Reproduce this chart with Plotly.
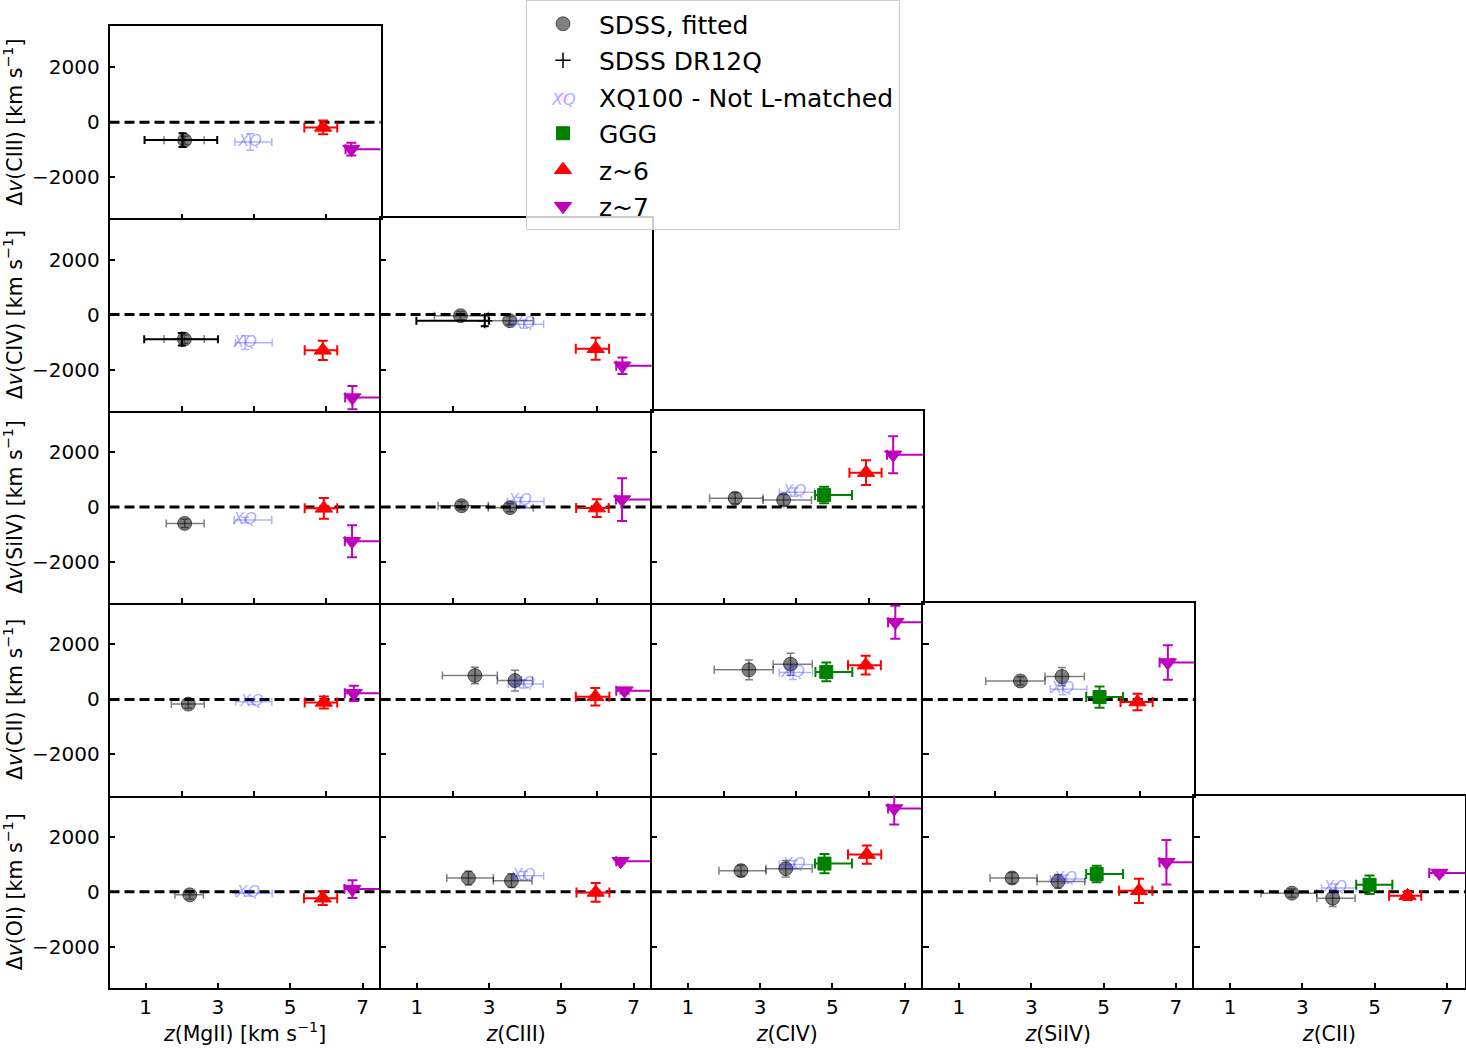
import plotly.graph_objects as go

W, H = 1466, 1050

row_lines = ["CIII", "CIV", "SiIV", "CII", "OI"]
col_lines = ["MgII", "CIII", "CIV", "SiIV", "CII"]
x_titles = ["<i>z</i>(MgII) [km s<sup>\u22121</sup>]", "<i>z</i>(CIII)", "<i>z</i>(CIV)",
            "<i>z</i>(SiIV)", "<i>z</i>(CII)"]
y_titles = ["\u0394<i>v</i>(%s) [km s<sup>\u22121</sup>]" % l for l in row_lines]

bottom_ticks = [1, 3, 5, 7]
upper_ticks = [0, 2, 4, 6]
y_ticks = [-2000, 0, 2000]
y_ticktext = ["\u22122000", "0", "2000"]

# records: (row, col, z, z_lo, z_hi, dv, dv_err)
sdss_fit = [
    (0, 0, 2.08, 1.51, 2.62, -660, 150),
    (1, 0, 2.07, 1.51, 2.62, -890, 150),
    (1, 1, 2.21, 1.49, 2.98, -40, 150), (1, 1, 3.57, 3.01, 4.22, -220, 150),
    (2, 0, 2.08, 1.57, 2.62, -597, 150),
    (2, 1, 2.24, 1.59, 2.98, 48, 150), (2, 1, 3.58, 2.98, 4.22, -24, 150),
    (2, 2, 2.31, 1.60, 3.08, 318, 200), (2, 2, 3.65, 3.08, 4.42, 256, 200),
    (3, 0, 2.18, 1.71, 2.62, -171, 150),
    (3, 1, 2.61, 1.71, 3.23, 867, 300), (3, 1, 3.72, 3.23, 4.20, 684, 380),
    (3, 2, 2.69, 1.73, 3.36, 1075, 360), (3, 2, 3.84, 3.36, 4.44, 1282, 400),
    (3, 3, 2.70, 1.74, 3.38, 670, 150), (3, 3, 3.85, 3.38, 4.47, 831, 330),
    (4, 0, 2.22, 1.81, 2.60, -110, 150),
    (4, 1, 2.43, 1.83, 3.12, 501, 250), (4, 1, 3.62, 3.12, 4.19, 403, 250),
    (4, 2, 2.47, 1.86, 3.16, 769, 200), (4, 2, 3.71, 3.16, 4.44, 842, 300),
    (4, 3, 2.47, 1.86, 3.16, 501, 200), (4, 3, 3.74, 3.16, 4.48, 379, 250),
    (4, 4, 2.71, 1.86, 3.40, -50, 150), (4, 4, 3.84, 3.40, 4.46, -232, 300),
]
dr12q = [
    (0, 0, 2.02, 0.97, 2.98, -650, 250),
    (1, 0, 2.00, 0.96, 3.00, -897, 227),
    (1, 1, 2.88, 0.99, 3.00, -220, 200),
]
xq100 = [
    (0, 0, 3.89, 3.47, 4.49, -720, 300),
    (1, 0, 3.75, 3.49, 4.50, -1020, 250),
    (1, 1, 3.96, 3.55, 4.51, -350, 150),
    (2, 0, 3.75, 3.45, 4.49, -476, 100),
    (2, 1, 3.86, 3.51, 4.52, 200, 150),
    (2, 2, 3.95, 3.53, 4.50, 537, 150),
    (3, 0, 3.94, 3.49, 4.49, -85, 100),
    (3, 1, 3.95, 3.53, 4.50, 562, 150),
    (3, 2, 3.91, 3.53, 4.45, 977, 250),
    (3, 3, 3.87, 3.53, 4.54, 366, 200),
    (4, 0, 3.84, 3.49, 4.50, -50, 100),
    (4, 1, 3.96, 3.67, 4.51, 586, 150),
    (4, 2, 3.93, 3.53, 4.50, 989, 150),
    (4, 3, 3.94, 3.53, 4.50, 464, 150),
    (4, 4, 3.91, 3.53, 4.50, 135, 150),
]
ggg = [
    (2, 2, 4.77, 4.52, 5.54, 440, 300),
    (3, 2, 4.83, 4.53, 5.55, 1000, 340),
    (3, 3, 4.89, 4.52, 5.54, 85, 385),
    (4, 2, 4.78, 4.52, 5.54, 1026, 350),
    (4, 3, 4.81, 4.52, 5.54, 647, 300),
    (4, 4, 4.86, 4.49, 5.49, 256, 335),
]
z6 = [
    (0, 0, 5.91, 5.39, 6.30, -190, 250),
    (1, 0, 5.90, 5.40, 6.30, -1300, 350),
    (1, 1, 5.95, 5.40, 6.32, -1240, 400),
    (2, 0, 5.93, 5.40, 6.30, -49, 375),
    (2, 1, 5.98, 5.41, 6.31, -40, 320),
    (2, 2, 5.93, 5.47, 6.36, 1250, 450),
    (3, 0, 5.93, 5.40, 6.30, -110, 220),
    (3, 1, 5.94, 5.40, 6.33, 98, 320),
    (3, 2, 5.92, 5.43, 6.34, 1245, 340),
    (3, 3, 5.94, 5.47, 6.36, -98, 300),
    (4, 0, 5.90, 5.38, 6.30, -232, 250),
    (4, 1, 5.95, 5.42, 6.33, -24, 340),
    (4, 2, 5.95, 5.43, 6.35, 1355, 330),
    (4, 3, 5.98, 5.43, 6.35, 37, 440),
    (4, 4, 5.91, 5.40, 6.29, -147, 150),
]
z7 = [
    (0, 0, 6.69, 6.53, 7.60, -980, 230),
    (1, 0, 6.72, 6.52, 7.60, -3020, 420),
    (1, 1, 6.69, 6.52, 7.60, -1860, 300),
    (2, 0, 6.71, 6.51, 7.60, -1245, 585),
    (2, 1, 6.68, 6.51, 7.60, 270, 780),
    (2, 2, 6.68, 6.51, 7.60, 1900, 670),
    (3, 0, 6.76, 6.51, 7.60, 220, 280),
    (3, 1, 6.75, 6.52, 7.60, 318, 100),
    (3, 2, 6.74, 6.54, 7.60, 2809, 600),
    (3, 3, 6.78, 6.55, 7.60, 1343, 630),
    (4, 0, 6.72, 6.50, 7.60, 98, 320),
    (4, 1, 6.64, 6.52, 7.60, 1110, 80),
    (4, 2, 6.71, 6.54, 7.60, 3029, 580),
    (4, 3, 6.74, 6.55, 7.60, 1074, 810),
    (4, 4, 6.79, 6.51, 7.60, 684, 80),
]

FONT = "DejaVu Sans"
LEFT, TOP, PW, PH = 109.5, 26.0, 271.1, 192.4
LEG_X, LEG_ITEMW, LEG_ROW, LEG_ROW0 = 526, 62, 37.4, 24.5

panels = [(r, c) for r in range(5) for c in range(r + 1)]
axis_id = {p: i + 1 for i, p in enumerate(panels)}


def sfx(n):
    return "" if n == 1 else str(n)


XQ_COLOR = "rgba(60,60,255,0.42)"

fig = go.Figure()

series = [
    dict(name="SDSS, fitted", data=sdss_fit, mode="markers",
         marker=dict(symbol="circle", size=14, color="rgba(0,0,0,0.5)",
                     line=dict(color="rgba(0,0,0,0.55)", width=1)),
         ecolor="rgba(0,0,0,0.5)", ew=1.5, cap=4),
    dict(name="SDSS DR12Q", data=dr12q, mode="markers",
         marker=dict(symbol="cross-thin-open", size=11, color="black",
                     line=dict(color="black", width=1.5)),
         ecolor="black", ew=2, cap=4),
    dict(name="XQ100 - Not L-matched", data=xq100, mode="text",
         marker=None, ecolor="rgba(0,0,255,0.3)", ew=1.5, cap=4),
    dict(name="GGG", data=ggg, mode="markers",
         marker=dict(symbol="square", size=13, color="#008000",
                     line=dict(color="#008000", width=1)),
         ecolor="#008000", ew=2, cap=5),
    dict(name="z~6", data=z6, mode="markers",
         marker=dict(symbol="triangle-up", size=15, color="#ff0000",
                     line=dict(color="#ff0000", width=1)),
         ecolor="#ff0000", ew=2, cap=5),
    dict(name="z~7", data=z7, mode="markers",
         marker=dict(symbol="triangle-down", size=15, color="#bf00bf",
                     line=dict(color="#bf00bf", width=1)),
         ecolor="#bf00bf", ew=2, cap=5),
]

for s in series:
    is_text = s["mode"] == "text"
    if is_text:
        # legend-only entry (its icon is the "XQ" label placed over the legend)
        fig.add_trace(go.Scatter(x=[None], y=[None], mode="markers", name=s["name"],
                                 legendgroup=s["name"], showlegend=True,
                                 marker=dict(size=12, opacity=0)))
    first = not is_text
    for p in panels:
        recs = [d for d in s["data"] if (d[0], d[1]) == p]
        if not recs:
            continue
        n = axis_id[p]
        kw = dict(
            x=[d[2] for d in recs], y=[d[5] for d in recs],
            error_x=dict(type="data", symmetric=False,
                         array=[d[4] - d[2] for d in recs],
                         arrayminus=[d[2] - d[3] for d in recs],
                         color=s["ecolor"], thickness=s["ew"], width=s["cap"]),
            error_y=dict(type="data", array=[d[6] for d in recs],
                         color=s["ecolor"], thickness=s["ew"], width=s["cap"]),
            xaxis="x" + sfx(n), yaxis="y" + sfx(n),
            name=s["name"], legendgroup=s["name"], showlegend=first,
            mode=s["mode"],
        )
        if is_text:
            kw["text"] = ["<i>XQ</i>"] * len(recs)
            kw["textposition"] = "middle center"
            kw["textfont"] = dict(family=FONT, size=16, color=XQ_COLOR)
        else:
            kw["marker"] = s["marker"]
        fig.add_trace(go.Scatter(**kw))
        first = False

layout = dict(
    width=W, height=H, margin=dict(l=0, r=0, t=0, b=0),
    paper_bgcolor="white", plot_bgcolor="white",
    font=dict(family=FONT, size=20, color="black"),
    legend=dict(x=LEG_X / W, y=1.0, xanchor="left", yanchor="top",
                bgcolor="rgba(255,255,255,0.8)", bordercolor="#cccccc",
                borderwidth=1, font=dict(family=FONT, size=25, color="black"),
                traceorder="grouped", tracegroupgap=1, itemwidth=LEG_ITEMW),
    shapes=[],
    annotations=[dict(text="<i>XQ</i>", xref="paper", yref="paper",
                      x=(LEG_X + 6 + LEG_ITEMW / 2) / W,
                      y=1 - (LEG_ROW0 + 2 * LEG_ROW) / H,
                      xanchor="center", yanchor="middle", showarrow=False,
                      font=dict(family=FONT, size=16, color=XQ_COLOR))],
)

for (r, c), n in axis_id.items():
    x0 = LEFT + c * PW
    y0 = TOP + r * PH
    bottom = (r == 4)
    diag = (r == c)
    xa = dict(domain=[x0 / W, (x0 + PW) / W], anchor="y" + sfx(n), range=[0, 7.5],
              showgrid=False, zeroline=False, showline=True, mirror=diag,
              linecolor="black", linewidth=1.5, ticks="inside", ticklen=5,
              tickwidth=1.5, tickcolor="black",
              tickvals=bottom_ticks if bottom else upper_ticks,
              showticklabels=bottom, tickfont=dict(family=FONT, size=20, color="black"))
    if bottom:
        xa["title"] = dict(text=x_titles[c], font=dict(family=FONT, size=20.5, color="black"),
                           standoff=9)
    ya = dict(domain=[1 - (y0 + PH) / H, 1 - y0 / H], anchor="x" + sfx(n),
              range=[-3500, 3500], showgrid=False, zeroline=False, showline=True,
              mirror=diag, linecolor="black", linewidth=1.5, ticks="inside",
              ticklen=6, tickwidth=1.5, tickcolor="black", tickvals=y_ticks,
              ticktext=y_ticktext, ticklabelstandoff=4,
              showticklabels=(c == 0), tickfont=dict(family=FONT, size=20, color="black"))
    if c == 0:
        ya["title"] = dict(text=y_titles[r], font=dict(family=FONT, size=20.5, color="black"),
                           standoff=10)
    layout["xaxis" + sfx(n)] = xa
    layout["yaxis" + sfx(n)] = ya
    layout["shapes"].append(dict(type="line", xref="x%s domain" % sfx(n), yref="y" + sfx(n),
                                 x0=0, x1=1, y0=0, y1=0, layer="below",
                                 line=dict(color="black", width=3, dash="10px,5px")))

fig.update_layout(**layout)
fig.write_html("out.html")
